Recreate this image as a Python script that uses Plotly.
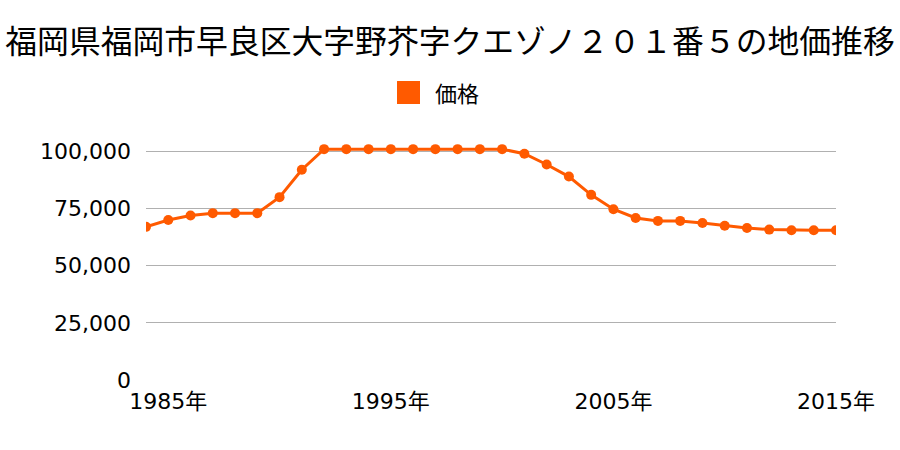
import plotly.graph_objects as go

years = list(range(1984, 2016))
prices = [67000, 70000, 72000, 73000, 73000, 73000, 80000, 92000,
          101000, 101000, 101000, 101000, 101000, 101000, 101000, 101000, 101000,
          99000, 94300, 89000, 81000, 74700, 70900, 69600, 69600, 68700,
          67500, 66500, 65800, 65500, 65500, 65500]
tick_years = [1985, 1995, 2005, 2015]
tick_text = [f"{y}年" for y in tick_years]
y_ticks = [0, 25000, 50000, 75000, 100000]
series_name = "価格"
color = "#ff5a00"
font = "Noto Sans CJK JP"
tfont = "DejaVu Sans, Noto Sans CJK JP"

fig = go.Figure()
fig.add_trace(go.Scatter(x=years, y=prices, mode="lines+markers", name=series_name,
                         line=dict(color=color, width=3),
                         marker=dict(color=color, size=10),
                         showlegend=False, hoverinfo="x+y"))

# legend key drawn manually (square + label)
fig.add_shape(type="rect", xref="paper", yref="paper",
              x0=0.3638, x1=0.3971, y0=1.15, y1=1.2458,
              fillcolor=color, line=dict(width=0))
fig.add_annotation(text=series_name, xref="paper", yref="paper",
                   x=0.4159, y=1.198, xanchor="left", yanchor="middle",
                   showarrow=False, font=dict(size=22, family=font, color="#000"))

fig.update_layout(
    width=900, height=450,
    margin=dict(l=146, r=64, t=140, b=70),
    paper_bgcolor="white", plot_bgcolor="white",
    font=dict(family=font, color="#000"),
    showlegend=False,
    title=dict(text="福岡県福岡市早良区大字野芥字クエゾノ２０１番５の地価推移",
               x=0.5, xanchor="center", y=0.907, yanchor="middle",
               font=dict(size=31.8, family=font, color="#000")),
    xaxis=dict(range=[1984, 2015], tickvals=tick_years, ticktext=tick_text,
               showgrid=False, zeroline=False, showline=False,
               tickfont=dict(size=22, family=tfont), ticks="", ticklabelstandoff=6),
    yaxis=dict(range=[0, 105000], tickvals=y_ticks, tickformat=",",
               showgrid=True, gridcolor="#b0b0b0", gridwidth=1,
               zeroline=False, showline=False, ticks="",
               tickfont=dict(size=22, family=tfont), ticklabelstandoff=14),
)
fig.write_html("out.html")
